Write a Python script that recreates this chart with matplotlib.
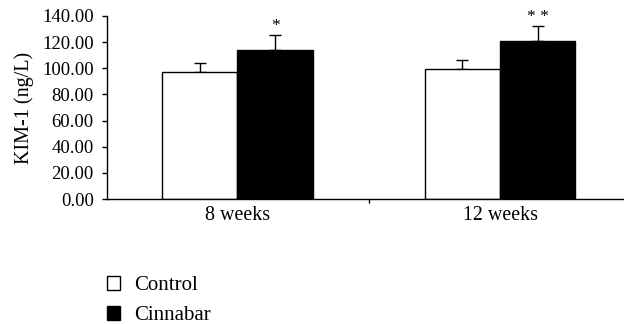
import matplotlib
matplotlib.use("Agg")
import matplotlib.pyplot as plt
from matplotlib.patches import Patch

categories = ["8 weeks", "12 weeks"]
control = [97.2, 99.2]
control_err = [7.1, 6.9]
cinnabar = [114.0, 120.6]
cinnabar_err = [11.7, 12.0]
signif = ["*", "* *"]
yticks = [0, 20, 40, 60, 80, 100, 120, 140]

plt.rcParams['font.family'] = ['Liberation Serif', 'DejaVu Serif']

fig = plt.figure(figsize=(6.24, 3.24), dpi=100)
ax = fig.add_axes([107/624, 1-199/324, 1-107/624, (199-16)/324])

w = 0.287
xs = list(range(len(categories)))
xc = [x - w/2 for x in xs]
xk = [x + w/2 for x in xs]
ax.bar(xc, control, width=w, color="white", edgecolor="black", linewidth=1.0, zorder=2)
ax.bar(xk, cinnabar, width=w, color="black", edgecolor="black", linewidth=1.0, zorder=2)
ax.errorbar(xc, control, yerr=[[0]*2, control_err], fmt="none", ecolor="black",
            elinewidth=1.0, capsize=4, capthick=1.0, zorder=1)
ax.errorbar(xk, cinnabar, yerr=[[0]*2, cinnabar_err], fmt="none", ecolor="black",
            elinewidth=1.0, capsize=4, capthick=1.0, zorder=1)
for x, v, e, s in zip(xk, cinnabar, cinnabar_err, signif):
    ax.text(x, v + e + 0.5, s, ha="center", va="bottom", fontsize=12.5)

ax.set_xlim(-0.497, 1.472)
ax.set_ylim(0, 140)
ax.set_yticks(yticks)
ax.set_yticklabels([f"{t:.2f}" for t in yticks], fontsize=13.5)
ax.set_ylabel("KIM-1 (ng/L)", fontsize=14.5, labelpad=6)

ax.set_xticks([0.5])
ax.set_xticklabels([""])
ax.set_xticks(xs, minor=True)
ax.set_xticklabels(categories, minor=True, fontsize=14.4)
ax.tick_params(axis="x", which="minor", length=0, pad=5)
ax.tick_params(axis="x", which="major", length=3, width=1.0, direction="out")
ax.tick_params(axis="y", length=3.5, width=1.0, direction="out", pad=6)

for s in ["top", "right"]:
    ax.spines[s].set_visible(False)
for s in ["left", "bottom"]:
    ax.spines[s].set_linewidth(1.0)

handles = [Patch(facecolor="white", edgecolor="black", linewidth=1.0, label="Control"),
           Patch(facecolor="black", edgecolor="black", linewidth=1.0, label="Cinnabar")]
fig.legend(handles=handles, loc="upper left", bbox_to_anchor=(107/624, 1-276/324),
           frameon=False, fontsize=15, handlelength=0.63, handleheight=0.63,
           handletextpad=0.67, labelspacing=0.52, borderaxespad=0, borderpad=0)

fig.savefig("out.png", dpi=100)
